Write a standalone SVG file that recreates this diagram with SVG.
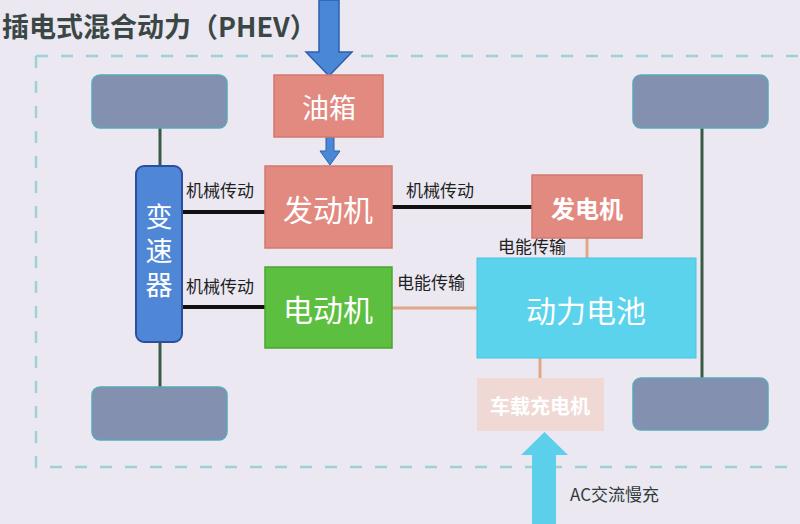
<svg xmlns="http://www.w3.org/2000/svg" width="800" height="524" viewBox="0 0 800 524">
<style>
text{font-family:"Noto Sans CJK SC","Noto Sans",sans-serif;}
.wheel{fill:#8390b0;stroke:#5aa8b8;stroke-width:1.5;}
.axle{stroke:#3b5a45;stroke-width:3;fill:none;}
.mech{stroke:#111;stroke-width:4;fill:none;}
.elec{stroke:#e0a888;stroke-width:3;fill:none;}
.salmon{fill:#e28a80;stroke:#d4786e;stroke-width:1.5;}
.lbl{font-size:17px;fill:#222;}
.big{fill:#fff;text-anchor:middle;dominant-baseline:central;}
.dash{stroke:#9fd0d8;stroke-width:2.5;stroke-dasharray:12 13;fill:none;}
</style>
<rect width="800" height="524" fill="#ebe8f2"/>
<text x="2" y="37" font-size="27" font-weight="bold" fill="#3a4745">插电式混合动力（PHEV）</text>
<g id="frame">
<path class="dash" d="M36 56 H800"/>
<path class="dash" d="M36 56 V467 H800"/>
</g>
<g id="connectors">
<line class="axle" x1="160" y1="128" x2="160" y2="387"/>
<line class="axle" x1="702" y1="128" x2="702" y2="378"/>
<line class="mech" x1="182" y1="212" x2="265" y2="212"/>
<line class="mech" x1="182" y1="307" x2="265" y2="307"/>
<line class="mech" x1="392" y1="207" x2="532" y2="207"/>
<line class="elec" x1="587" y1="238" x2="587" y2="258"/>
<line class="elec" x1="392" y1="308" x2="477" y2="308"/>
<line class="elec" x1="540" y1="358" x2="540" y2="378"/>
<text class="lbl" x="186" y="197">机械传动</text>
<text class="lbl" x="186" y="293">机械传动</text>
<text class="lbl" x="406" y="197">机械传动</text>
<text class="lbl" x="498" y="253">电能传输</text>
<text class="lbl" x="397" y="289">电能传输</text>
<path d="M319 0 H339 V52 H352 L329 76 L306 52 H319 Z" fill="#4a88d6" stroke="#2d5fb0" stroke-width="1.5"/>
<path d="M326 137 H334 V151 H340 L330 165 L320 151 H326 Z" fill="#4a88d6" stroke="#2d5fb0" stroke-width="1"/>
<path d="M532 524 V455 H521 L544.5 432 L568 455 H556 V524 Z" fill="#5ccfea"/>
<text x="570" y="501" font-size="17" fill="#2f3b3a">AC交流慢充</text>
</g>
<g id="wheel-tl"><rect class="wheel" x="92" y="75" width="135" height="53" rx="8"/></g>
<g id="wheel-tr"><rect class="wheel" x="633" y="75" width="135" height="53" rx="8"/></g>
<g id="wheel-bl"><rect class="wheel" x="92" y="387" width="135" height="53" rx="8"/></g>
<g id="wheel-br"><rect class="wheel" x="633" y="378" width="135" height="52" rx="8"/></g>
<g id="gearbox">
<rect x="136" y="166" width="46" height="176" rx="8" fill="#4f86d6" stroke="#2a4fa0" stroke-width="2"/>
<text x="159" y="203" font-size="27" fill="#fff" writing-mode="vertical-rl" letter-spacing="7">变速器</text>
</g>
<g id="tank">
<rect class="salmon" x="274" y="75" width="109" height="62"/>
<text class="big" x="329" y="106" font-size="27">油箱</text>
</g>
<g id="engine">
<rect class="salmon" x="265" y="166" width="127" height="82"/>
<text class="big" x="328" y="208" font-size="30">发动机</text>
</g>
<g id="motor">
<rect x="265" y="267" width="127" height="81" fill="#5cbf40" stroke="#4aa632" stroke-width="1.5"/>
<text class="big" x="328" y="308" font-size="30">电动机</text>
</g>
<g id="generator">
<rect class="salmon" x="532" y="175" width="110" height="63"/>
<text class="big" x="587" y="207" font-size="24" font-weight="bold">发电机</text>
</g>
<g id="battery">
<rect x="477" y="258" width="219" height="100" fill="#5bd3ec" stroke="#4cc4de" stroke-width="1"/>
<text class="big" x="586" y="309" font-size="30" fill="#eef8fb">动力电池</text>
</g>
<g id="charger">
<rect x="477" y="378" width="127" height="53" fill="#f0d9d5"/>
<text class="big" x="540" y="405" font-size="20" font-weight="bold" fill="#f8efee">车载充电机</text>
</g>
</svg>
